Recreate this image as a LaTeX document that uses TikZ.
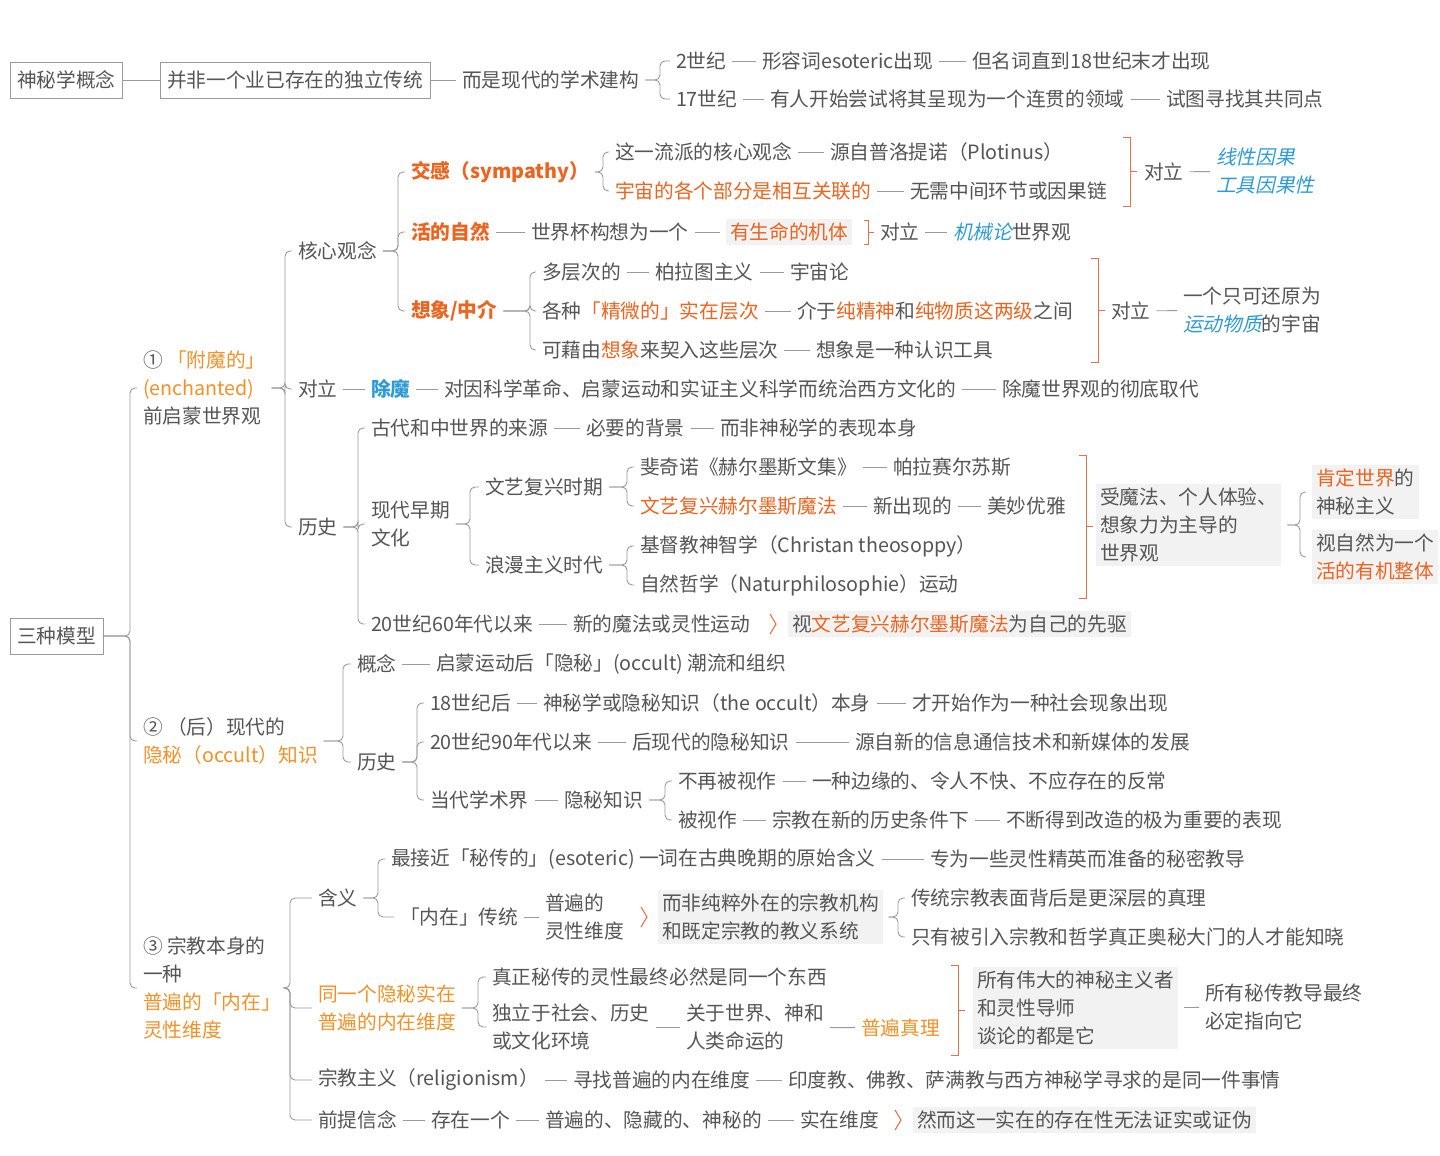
\documentclass[tikz,border=0pt]{standalone}
\usepackage{fontspec}
\setmainfont{Noto Sans CJK SC}
\newfontfamily\slf[FakeSlant=0.22]{Noto Sans CJK SC}
\definecolor{txt}{HTML}{555555}
\definecolor{lng}{HTML}{9A9A9A}
\definecolor{orr}{HTML}{EC6420}
\definecolor{ory}{HTML}{F0922A}
\definecolor{blu}{HTML}{2E9BD6}
\definecolor{bgc}{HTML}{F2F2F2}
\definecolor{rbc}{HTML}{E8704A}
\newcommand\oy[1]{\textcolor{ory}{#1}}
\newcommand\orr[1]{\textcolor{orr}{#1}}
\newcommand\bl[1]{\textcolor{blu}{\slf #1}}
\newcommand\brk[3]{\foreach \c in {#3}{\draw[ln,rounded corners=5] (#1.east) -- (#1.east -| #2,0) |- (\c.west);}}
\newcommand\rbr[3]{\draw[rb] (#1-7,#2) -- (#1,#2) -- (#1,#3) -- (#1-7,#3); \draw[rb] (#1,#2/2+#3/2) -- (#1+7,#2/2+#3/2);}
\newcommand\chev[2]{\draw[rb,line width=1.1] (#1,#2-10) -- (#1+6,#2) -- (#1,#2+10);}
\begin{document}
\begin{tikzpicture}[x=1pt,y=-1pt,
 t/.style={anchor=west,inner xsep=0,inner ysep=2,outer xsep=6,text=txt,font=\fontsize{19.7}{28}\selectfont,align=left},
 bx/.style={t,draw=lng,inner xsep=7,inner ysep=9,outer xsep=0},
 bg/.style={t,fill=bgc,inner xsep=4,inner ysep=4},
 ln/.style={draw=lng,line width=0.9},
 rb/.style={draw=rbc,line width=0.9}]
\useasboundingbox[fill=white] (0,0) rectangle (1440,1156);
% row 1
\node[bx] (a0) at (10,80) {神秘学概念};
\node[bx] (a1) at (160,80) {并非一个业已存在的独立传统};
\node[t] (a2) at (456,80) {而是现代的学术建构};
\draw[ln] (a0) -- (a1); \draw[ln] (a1) -- (a2);
\node[t] (a3) at (670,61) {2世纪};
\node[t] (a4) at (756,61) {形容词esoteric出现};
\node[t] (a5) at (966,61) {但名词直到18世纪末才出现};
\node[t] (a6) at (670,99) {17世纪};
\node[t] (a7) at (764,99) {有人开始尝试将其呈现为一个连贯的领域};
\node[t] (a8) at (1160,99) {试图寻找其共同点};
\brk{a2}{660}{a3,a6}
\draw[ln] (a3)--(a4); \draw[ln] (a4)--(a5); \draw[ln] (a6)--(a7); \draw[ln] (a7)--(a8);
% root
\node[bx] (r) at (10,636) {三种模型};
\node[t] (m1) at (137,388) {① \oy{「附魔的」}\\\oy{(enchanted)}\\前启蒙世界观};
\node[t] (m2) at (137,741) {② （后）现代的\\\oy{隐秘（occult）知识}};
\node[t] (m3) at (137,988) {③ 宗教本身的\\一种\\\oy{普遍的「内在」}\\\oy{灵性维度}};
\brk{r}{130}{m1,m2,m3}
% model 1
\node[t] (h1) at (292,251) {核心观念};
\node[t] (h2) at (292,389) {对立};
\node[t] (h3) at (292,527) {历史};
\brk{m1}{285}{h1,h2,h3}
\node[t] (c1) at (405,172) {\orr{\bfseries 交感（sympathy）}};
\node[t] (c2) at (405,232) {\orr{\bfseries 活的自然}};
\node[t] (c3) at (405,311) {\orr{\bfseries 想象/中介}};
\brk{h1}{398}{c1,c2,c3}
\node[t] (d1) at (609,152) {这一流派的核心观念};
\node[t] (d2) at (824,152) {源自普洛提诺（Plotinus）};
\node[t] (d3) at (609,191) {\orr{宇宙的各个部分是相互关联的}};
\node[t] (d4) at (904,191) {无需中间环节或因果链};
\brk{c1}{603}{d1,d3}
\draw[ln] (d1)--(d2); \draw[ln] (d3)--(d4);
\rbr{1130}{137}{206}
\node[t] (d5) at (1138,172) {对立};
\node[t] (d6) at (1210,171) {\bl{线性因果}\\\bl{工具因果性}};
\draw[ln] (d5)--(d6);
\node[t] (e1) at (525,232) {世界杯构想为一个};
\node[bg] (e2) at (720,232) {\orr{有生命的机体}};
\draw[ln] (c2)--(e1); \draw[ln] (e1)--(e2);
\draw[rb] (864,220) -- (868,220) -- (868,244) -- (864,244); \draw[rb] (868,232)--(874,232);
\node[t] (e3) at (874,232) {对立};
\node[t] (e4) at (947,232) {\bl{机械论}世界观};
\draw[ln] (e3)--(e4);
\node[t] (f1) at (536,272) {多层次的};
\node[t] (f2) at (649,272) {柏拉图主义};
\node[t] (f3) at (784,272) {宇宙论};
\node[t] (f4) at (536,311) {各种\orr{「精微的」实在层次}};
\node[t] (f5) at (791,311) {介于\orr{纯精神}和\orr{纯物质这两级}之间};
\node[t] (f6) at (536,350) {可藉由\orr{想象}来契入这些层次};
\node[t] (f7) at (810,350) {想象是一种认识工具};
\brk{c3}{530}{f1,f4,f6}
\draw[ln] (f1)--(f2); \draw[ln] (f2)--(f3); \draw[ln] (f4)--(f5); \draw[ln] (f6)--(f7);
\rbr{1098}{258}{362}
\node[t] (f8) at (1105,311) {对立};
\node[t] (f9) at (1177,310) {一个只可还原为\\\bl{运动物质}的宇宙};
\draw[ln] (f8)--(f9);
\node[t] (g1) at (365,389) {\textcolor{blu}{\bfseries 除魔}};
\node[t] (g2) at (438,389) {对因科学革命、启蒙运动和实证主义科学而统治西方文化的};
\node[t] (g3) at (996,389) {除魔世界观的彻底取代};
\draw[ln] (h2)--(g1); \draw[ln] (g1)--(g2); \draw[ln] (g2)--(g3);
\node[t] (i1) at (365,428) {古代和中世界的来源};
\node[t] (i2) at (580,428) {必要的背景};
\node[t] (i3) at (714,428) {而非神秘学的表现本身};
\node[t] (i4) at (365,524) {现代早期\\文化};
\node[t] (i5) at (365,624) {20世纪60年代以来};
\node[t] (i6) at (567,624) {新的魔法或灵性运动};
\node[bg] (i7) at (782,624) {视\orr{文艺复兴赫尔墨斯魔法}为自己的先驱};
\brk{h3}{358}{i1,i4,i5}
\draw[ln] (i1)--(i2); \draw[ln] (i2)--(i3); \draw[ln] (i5)--(i6);
\chev{770}{624}
\node[t] (j1) at (479,487) {文艺复兴时期};
\node[t] (j2) at (479,565) {浪漫主义时代};
\brk{i4}{470}{j1,j2}
\node[t] (k1) at (634,467) {斐奇诺《赫尔墨斯文集》};
\node[t] (k2) at (887,467) {帕拉赛尔苏斯};
\node[t] (k3) at (634,506) {\orr{文艺复兴赫尔墨斯魔法}};
\node[t] (k4) at (867,506) {新出现的};
\node[t] (k5) at (981,506) {美妙优雅};
\brk{j1}{627}{k1,k3}
\draw[ln] (k1)--(k2); \draw[ln] (k3)--(k4); \draw[ln] (k4)--(k5);
\node[t] (k6) at (634,546) {基督教神智学（Christan theosoppy）};
\node[t] (k7) at (634,585) {自然哲学（Naturphilosophie）运动};
\brk{j2}{627}{k6,k7}
\rbr{1086}{455}{598}
\node[bg] (k8) at (1090,525) {受魔法、个人体验、\\想象力为主导的\\世界观\hspace{40pt}};
\node[bg] (k9) at (1306,492) {\orr{肯定世界}的\\神秘主义};
\node[bg] (k10) at (1306,557) {视自然为一个\\\orr{活的有机整体}};
\brk{k8}{1300}{k9,k10}
% model 2
\node[t] (n1) at (351,664) {概念};
\node[t] (n2) at (351,762) {历史};
\brk{m2}{343}{n1,n2}
\node[t] (n3) at (430,664) {启蒙运动后「隐秘」(occult) 潮流和组织};
\draw[ln] (n1)--(n3);
\node[t] (o1) at (424,703) {18世纪后};
\node[t] (o2) at (537,703) {神秘学或隐秘知识（the occult）本身};
\node[t] (o3) at (906,703) {才开始作为一种社会现象出现};
\node[t] (o4) at (424,742) {20世纪90年代以来};
\node[t] (o5) at (626,742) {后现代的隐秘知识};
\node[t] (o6) at (849,742) {源自新的信息通信技术和新媒体的发展};
\node[t] (o7) at (424,800) {当代学术界};
\node[t] (o8) at (558,800) {隐秘知识};
\brk{n2}{417}{o1,o4,o7}
\draw[ln] (o1)--(o2); \draw[ln] (o2)--(o3); \draw[ln] (o4)--(o5); \draw[ln] (o5)--(o6); \draw[ln] (o7)--(o8);
\node[t] (p1) at (672,781) {不再被视作};
\node[t] (p2) at (806,781) {一种边缘的、令人不快、不应存在的反常};
\node[t] (p3) at (672,820) {被视作};
\node[t] (p4) at (766,820) {宗教在新的历史条件下};
\node[t] (p5) at (1000,820) {不断得到改造的极为重要的表现};
\brk{o8}{665}{p1,p3}
\draw[ln] (p1)--(p2); \draw[ln] (p3)--(p4); \draw[ln] (p4)--(p5);
% model 3
\node[t] (q1) at (312,898) {含义};
\node[t] (q2) at (312,1008) {\oy{同一个隐秘实在}\\\oy{普遍的内在维度}};
\node[t] (q3) at (312,1080) {宗教主义（religionism）};
\node[t] (q4) at (312,1120) {前提信念};
\brk{m3}{290}{q1,q2,q3,q4}
\node[t] (s1) at (385,859) {最接近「秘传的」(esoteric) 一词在古典晚期的原始含义};
\node[t] (s2) at (924,859) {专为一些灵性精英而准备的秘密教导};
\node[t] (s3) at (394,917) {「内在」传统};
\brk{q1}{378}{s1,s3}
\draw[ln] (s1)--(s2);
\node[t] (s4) at (539,917) {普遍的\\灵性维度};
\draw[ln] (s3)--(s4);
\chev{641}{917}
\node[bg] (s5) at (652,917) {而非纯粹外在的宗教机构\\和既定宗教的教义系统};
\node[t] (s6) at (905,898) {传统宗教表面背后是更深层的真理};
\node[t] (s7) at (905,937) {只有被引入宗教和哲学真正奥秘大门的人才能知晓};
\brk{s5}{898}{s6,s7}
\node[t] (u1) at (486,977) {真正秘传的灵性最终必然是同一个东西};
\node[t] (u2) at (486,1027) {独立于社会、历史\\或文化环境};
\brk{q2}{478}{u1,u2}
\node[t] (u3) at (680,1027) {关于世界、神和\\人类命运的};
\node[t] (u4) at (855,1028) {\oy{普遍真理}};
\draw[ln] (u2)--(u3); \draw[ln] (u3)--(u4);
\rbr{958}{965}{1055}
\node[bg] (u5) at (967,1008) {所有伟大的神秘主义者\\和灵性导师\\谈论的都是它};
\node[t] (u6) at (1199,1007) {所有秘传教导最终\\必定指向它};
\draw[ln] (u5)--(u6);
\node[t] (v1) at (567,1080) {寻找普遍的内在维度};
\node[t] (v2) at (782,1080) {印度教、佛教、萨满教与西方神秘学寻求的是同一件事情};
\draw[ln] (q3)--(v1); \draw[ln] (v1)--(v2);
\node[t] (w1) at (425,1120) {存在一个};
\node[t] (w2) at (539,1120) {普遍的、隐藏的、神秘的};
\node[t] (w3) at (794,1120) {实在维度};
\node[bg] (w4) at (907,1120) {然而这一实在的存在性无法证实或证伪};
\draw[ln] (q4)--(w1); \draw[ln] (w1)--(w2); \draw[ln] (w2)--(w3);
\chev{895}{1120}
\end{tikzpicture}
\end{document}
